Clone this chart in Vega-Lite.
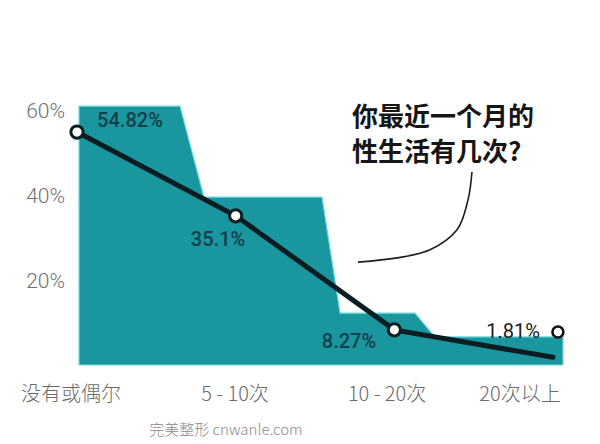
{
  "$schema": "https://vega.github.io/schema/vega-lite/v6.json",
  "width": 600,
  "height": 444,
  "autosize": "none",
  "padding": 0,
  "background": "white",
  "config": {"view": {"stroke": null}},
  "datasets": {
    "shape": [
      {"x": 0.0126, "y": 60.9},
      {"x": 0.649, "y": 60.9},
      {"x": 0.8, "y": 39.5},
      {"x": 1.544, "y": 39.5},
      {"x": 1.658, "y": 12.2},
      {"x": 2.13, "y": 12.2},
      {"x": 2.256, "y": 6.6},
      {"x": 3.063, "y": 6.6}
    ],
    "series": [
      {"x": 0, "y": 54.82, "category": "没有或偶尔", "marker": true},
      {"x": 1, "y": 35.1, "category": "5 - 10次", "marker": true},
      {"x": 2, "y": 8.27, "category": "10 - 20次", "marker": true},
      {"x": 3, "y": 1.81, "category": "20次以上", "marker": false}
    ],
    "curve": [
      {"x": 2.489, "y": 45.4, "o": 1},
      {"x": 2.464, "y": 38.8, "o": 2},
      {"x": 2.395, "y": 31.8, "o": 3},
      {"x": 2.225, "y": 27.1, "o": 4},
      {"x": 2.017, "y": 25.2, "o": 5},
      {"x": 1.771, "y": 24.2, "o": 6}
    ],
    "valueLabels": [
      {"x": 0.334, "y": 57.4, "text": "54.82%", "kind": "teal"},
      {"x": 0.889, "y": 29.4, "text": "35.1%", "kind": "teal"},
      {"x": 1.714, "y": 5.4, "text": "8.27%", "kind": "teal"},
      {"x": 2.748, "y": 7.76, "text": "1.81%", "kind": "black"}
    ],
    "legendDot": [{"x": 3.031, "y": 7.76}],
    "yLabels": [
      {"x": -0.0756, "y": 60, "text": "60%"},
      {"x": -0.0756, "y": 40, "text": "40%"},
      {"x": -0.0756, "y": 20, "text": "20%"}
    ],
    "xLabels": [
      {"x": -0.038, "y": -7.06, "text": "没有或偶尔"},
      {"x": 0.996, "y": -7.06, "text": "5 - 10次"},
      {"x": 1.954, "y": -7.06, "text": "10 - 20次"},
      {"x": 2.792, "y": -7.06, "text": "20次以上"}
    ],
    "title": [
      {"x": 1.733, "y": 58.1, "text": "你最近一个月的"},
      {"x": 1.733, "y": 49.9, "text": "性生活有几次?"}
    ],
    "watermark": [{"x": 0.939, "y": -15.3, "text": "完美整形 cnwanle.com"}]
  },
  "encoding": {
    "x": {"field": "x", "type": "quantitative", "axis": null,
          "scale": {"domain": [-0.4853, 3.2962], "nice": false, "zero": false}},
    "y": {"field": "y", "type": "quantitative", "axis": null,
          "scale": {"domain": [-18.59, 85.88], "nice": false, "zero": false}}
  },
  "layer": [
    {
      "data": {"name": "shape"},
      "mark": {"type": "area", "interpolate": "linear", "color": "#1a969e", "stroke": "#6fd8de", "strokeWidth": 1.2},
      "encoding": {"y2": {"datum": 0}}
    },
    {
      "data": {"name": "curve"},
      "mark": {"type": "line", "interpolate": "cardinal", "color": "#1e1e1e", "strokeWidth": 1.6},
      "encoding": {"order": {"field": "o", "type": "quantitative"}}
    },
    {
      "data": {"name": "series"},
      "mark": {"type": "line", "color": "#0b1c22", "strokeWidth": 5, "strokeCap": "round"},
      "encoding": {}
    },
    {
      "data": {"name": "series"},
      "transform": [{"filter": "datum.marker"}],
      "mark": {"type": "point", "shape": "circle", "filled": true, "fill": "white", "stroke": "#0b1c22", "strokeWidth": 3, "size": 150, "opacity": 1},
      "encoding": {}
    },
    {
      "data": {"name": "legendDot"},
      "mark": {"type": "point", "shape": "circle", "filled": true, "fill": "white", "stroke": "#111111", "strokeWidth": 2.6, "size": 120, "opacity": 1},
      "encoding": {}
    },
    {
      "data": {"name": "valueLabels"},
      "transform": [{"filter": "datum.kind === 'teal'"}],
      "mark": {"type": "text", "font": "Roboto", "fontSize": 20, "fontWeight": 500, "color": "#103f4c", "align": "center", "baseline": "middle"},
      "encoding": {"text": {"field": "text"}}
    },
    {
      "data": {"name": "valueLabels"},
      "transform": [{"filter": "datum.kind === 'black'"}],
      "mark": {"type": "text", "font": "Roboto", "fontSize": 20, "fontWeight": "normal", "color": "#1a1a1a", "align": "center", "baseline": "middle"},
      "encoding": {"text": {"field": "text"}}
    },
    {
      "data": {"name": "yLabels"},
      "mark": {"type": "text", "font": "Roboto", "fontSize": 21, "fontWeight": 300, "color": "#6f6f6f", "align": "right", "baseline": "middle", "dy": 2},
      "encoding": {"text": {"field": "text"}}
    },
    {
      "data": {"name": "xLabels"},
      "mark": {"type": "text", "font": "Noto Sans CJK SC", "fontSize": 20, "fontWeight": 300, "color": "#6a6a6a", "align": "center", "baseline": "middle"},
      "encoding": {"text": {"field": "text"}}
    },
    {
      "data": {"name": "title"},
      "mark": {"type": "text", "font": "Noto Sans CJK SC", "fontSize": 26, "fontWeight": "bold", "color": "#161616", "align": "left", "baseline": "middle"},
      "encoding": {"text": {"field": "text"}}
    },
    {
      "data": {"name": "watermark"},
      "mark": {"type": "text", "font": "Noto Sans CJK SC", "fontSize": 15, "fontWeight": 300, "color": "#8a8a8a", "align": "center", "baseline": "middle"},
      "encoding": {"text": {"field": "text"}}
    }
  ]
}
